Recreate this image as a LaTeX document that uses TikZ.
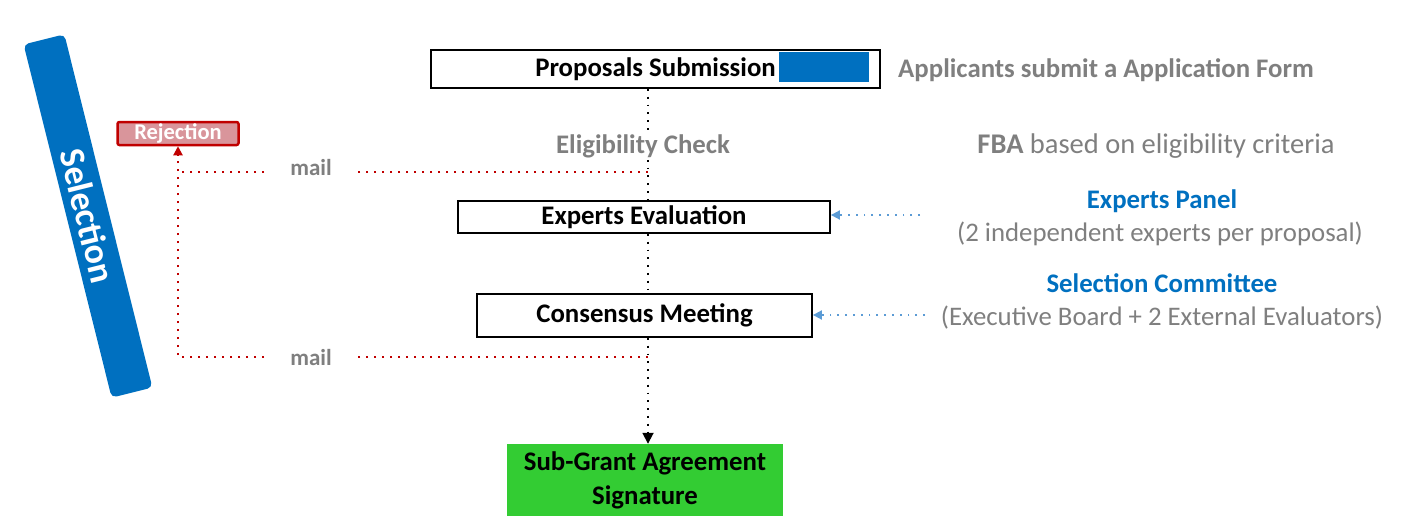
\documentclass[tikz,border=0pt]{standalone}
\usepackage{fontspec}
\setmainfont{Carlito}
\usetikzlibrary{arrows.meta}
\definecolor{txtgray}{HTML}{7F7F7F}
\definecolor{selblue}{HTML}{0070C0}
\definecolor{arrblue}{HTML}{5B9BD5}
\definecolor{rejred}{HTML}{C00000}
\definecolor{rejfill}{HTML}{D9959B}
\definecolor{sgagreen}{HTML}{33CC33}
\tikzset{
  stepbox/.style={draw=black, line width=1.8pt, fill=white, inner sep=0pt, font=\fontsize{26.8}{30}\selectfont\bfseries},
  graytxt/.style={text=txtgray, inner sep=2pt, font=\fontsize{26.8}{30}\selectfont},
  bluetxt/.style={text=selblue, inner sep=2pt, font=\fontsize{26.8}{30}\selectfont\bfseries},
  mailtxt/.style={text=txtgray, fill=white, inner sep=0pt, minimum width=90pt, minimum height=20pt, font=\fontsize{23}{26}\selectfont\bfseries},
  blackdot/.style={draw=black, line width=1.8pt, dash pattern=on 1.8pt off 6pt},
  reddot/.style={draw=rejred, line width=2pt, dash pattern=on 2pt off 6pt},
  bluedot/.style={draw=arrblue, line width=1.8pt, dash pattern=on 1.8pt off 6pt},
}
\begin{document}
\begin{tikzpicture}[x=1pt,y=-1pt]
\useasboundingbox (0,0) rectangle (1405,528);
% Selection bar
\node[fill=selblue, rounded corners=5pt, minimum width=364pt, minimum height=42pt, rotate=-76, text=white, inner sep=0pt, font=\fontsize{36}{40}\selectfont\bfseries] (sel) at (88,216) {Selection};
% Rejection
\node[draw=rejred, fill=rejfill, line width=2.5pt, rounded corners=2pt, minimum width=121pt, minimum height=23pt, inner sep=0pt, text=white, font=\fontsize{22.5}{24}\selectfont\bfseries] (rej) at (178,133.5) {Rejection};
% main boxes
\node[stepbox, minimum width=449pt, minimum height=38pt] (prop) at (655.5,69) {Proposals Submission};
\node[fill=selblue, minimum width=90pt, minimum height=30pt, inner sep=0pt] (propmark) at (824,67) {};
\node[graytxt, font=\fontsize{26.8}{30}\selectfont\bfseries] (elig) at (643,146) {Eligibility Check};
\node[stepbox, minimum width=372pt, minimum height=32pt] (exp) at (644,217) {Experts Evaluation};
\node[stepbox, minimum width=335pt, minimum height=43pt] (cons) at (644.5,315.5) {Consensus Meeting};
\node[fill=sgagreen, minimum width=276pt, minimum height=72pt, inner sep=0pt, align=center, font=\fontsize{26.8}{34}\selectfont\bfseries] (sga) at (645,480) {Sub-Grant Agreement\\Signature};
% right side texts
\node[graytxt, font=\fontsize{26.8}{30}\selectfont\bfseries] (appl) at (1106,70) {Applicants submit a Application Form};
\node[graytxt, font=\fontsize{28.5}{32}\selectfont] (fba) at (1156,146) {\textbf{FBA} based on eligibility criteria};
\node[bluetxt] (panel) at (1162,201) {Experts Panel};
\node[graytxt] (panelsub) at (1160,234) {(2 independent experts per proposal)};
\node[bluetxt] (comm) at (1162,283) {Selection Committee};
\node[graytxt] (commsub) at (1162,318) {(Executive Board + 2 External Evaluators)};
% spine coordinates
\coordinate (spine) at (648,0);
\coordinate (j1) at (648,172);
\coordinate (c1) at (178,172);
\coordinate (j2) at (648,357);
\coordinate (c2) at (178,357);
\coordinate (bp1) at (920,215);
\coordinate (bp2) at (925,315);
% black spine
\draw[blackdot] (prop.south -| spine) -- (elig.north -| spine);
\draw[blackdot] (elig.south -| spine) -- (exp.north -| spine);
\draw[blackdot] (exp.south -| spine) -- (cons.north -| spine);
\draw[blackdot, -{Triangle[length=11pt,width=11pt]}] (cons.south -| spine) -- (sga.north -| spine);
% red mail paths
\draw[reddot] (j1) -- (c1);
\draw[reddot, -{Triangle[length=9pt,width=9pt]}] (j2) -- (c2) -- (rej.south);
\node[mailtxt] (mail1) at (311,168) {mail};
\node[mailtxt] (mail2) at (311,358) {mail};
% blue arrows
\draw[bluedot, -{Triangle[length=9pt,width=9pt]}] (bp1) -- (exp.east |- bp1);
\draw[bluedot, -{Triangle[length=9pt,width=9pt]}] (bp2) -- (cons.east |- bp2);
\end{tikzpicture}
\end{document}
